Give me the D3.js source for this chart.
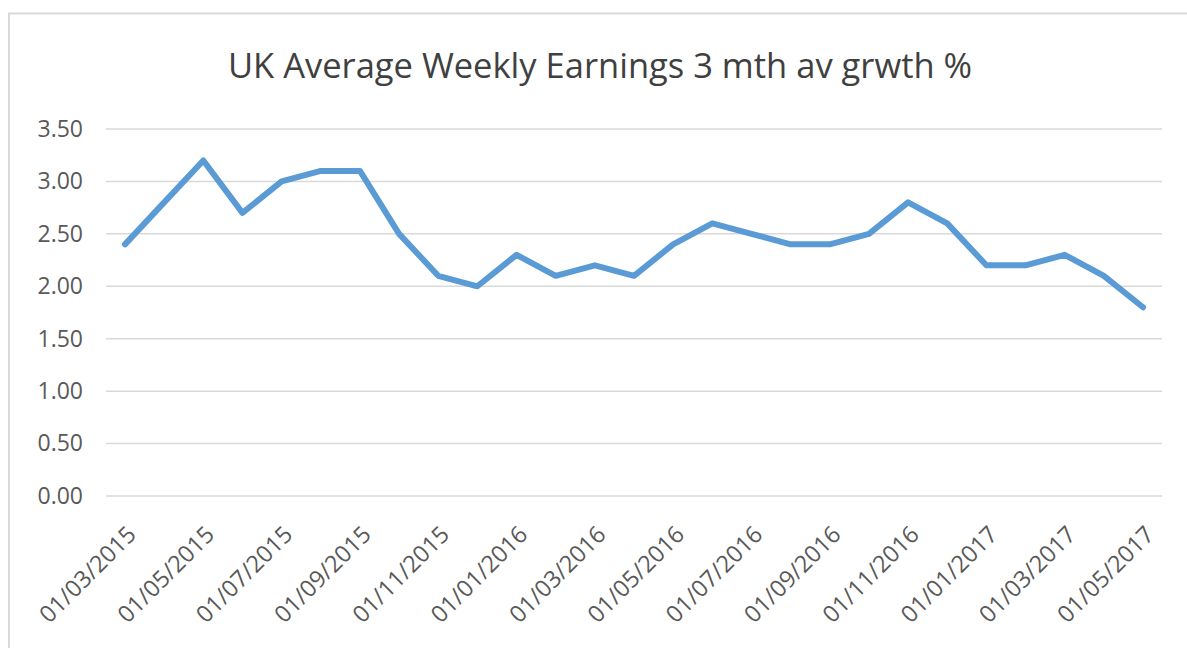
<!DOCTYPE html>
<html><head><meta charset="utf-8">
<script src="https://cdn.jsdelivr.net/npm/d3@7"></script>
<style>body{margin:0;background:#fff;}svg{display:block;}</style>
</head><body>
<svg id="c" width="1187" height="648"></svg>
<script>
const months = ["01/03/2015","01/04/2015","01/05/2015","01/06/2015","01/07/2015","01/08/2015","01/09/2015","01/10/2015","01/11/2015","01/12/2015","01/01/2016","01/02/2016","01/03/2016","01/04/2016","01/05/2016","01/06/2016","01/07/2016","01/08/2016","01/09/2016","01/10/2016","01/11/2016","01/12/2016","01/01/2017","01/02/2017","01/03/2017","01/04/2017","01/05/2017"];
const growth = [2.4,2.8,3.2,2.7,3.0,3.1,3.1,2.5,2.1,2.0,2.3,2.1,2.2,2.1,2.4,2.6,2.5,2.4,2.4,2.5,2.8,2.6,2.2,2.2,2.3,2.1,1.8];
const yTicks = [0,0.5,1,1.5,2,2.5,3,3.5];
const title = "UK Average Weekly Earnings 3 mth av grwth %";

const svg = d3.select("#c");
const font = "'Open Sans', sans-serif";
const textCol = "#595959";

svg.append("rect").attr("x",9).attr("y",13.5).attr("width",1200).attr("height",700)
  .attr("fill","none").attr("stroke","#d9d9d9").attr("stroke-width",2);

svg.append("text").attr("x",600).attr("y",78).attr("text-anchor","middle")
  .attr("font-family",font).attr("font-size",34.5).attr("fill","#404040").text(title);

const x = d3.scalePoint().domain(months).range([125,1143]);
const y = d3.scaleLinear().domain([0,3.5]).range([496,129]);

const grid = svg.append("g");
grid.selectAll("line").data(yTicks).join("line")
  .attr("x1",106).attr("x2",1162)
  .attr("y1",d=>y(d)).attr("y2",d=>y(d))
  .attr("stroke","#d9d9d9").attr("stroke-width",1.5);

const yAxis = svg.append("g").attr("transform","translate(83,0)")
  .call(d3.axisLeft(y).tickValues(yTicks).tickFormat(d3.format(".2f")).tickSize(0).tickPadding(0));
yAxis.select(".domain").remove();
yAxis.selectAll("text").attr("font-family",font).attr("font-size",23).attr("fill",textCol);

const labelled = months.filter((d,i)=>i%2===0);
const xAxis = svg.append("g").attr("transform","translate(0,496)")
  .call(d3.axisBottom(x).tickValues(labelled).tickSize(0).tickPadding(0));
xAxis.select(".domain").remove();
xAxis.selectAll("text")
  .attr("font-family",font).attr("font-size",23.5).attr("fill",textCol)
  .attr("text-anchor","end").attr("dy",null).attr("y",0)
  .attr("transform","translate(12,40) rotate(-45)");

const line = d3.line().x((d,i)=>x(months[i])).y(d=>y(d));
svg.append("path").datum(growth).attr("d",line)
  .attr("fill","none").attr("stroke","#5b9bd5").attr("stroke-width",6)
  .attr("stroke-linejoin","round").attr("stroke-linecap","round");
</script>
</body></html>
